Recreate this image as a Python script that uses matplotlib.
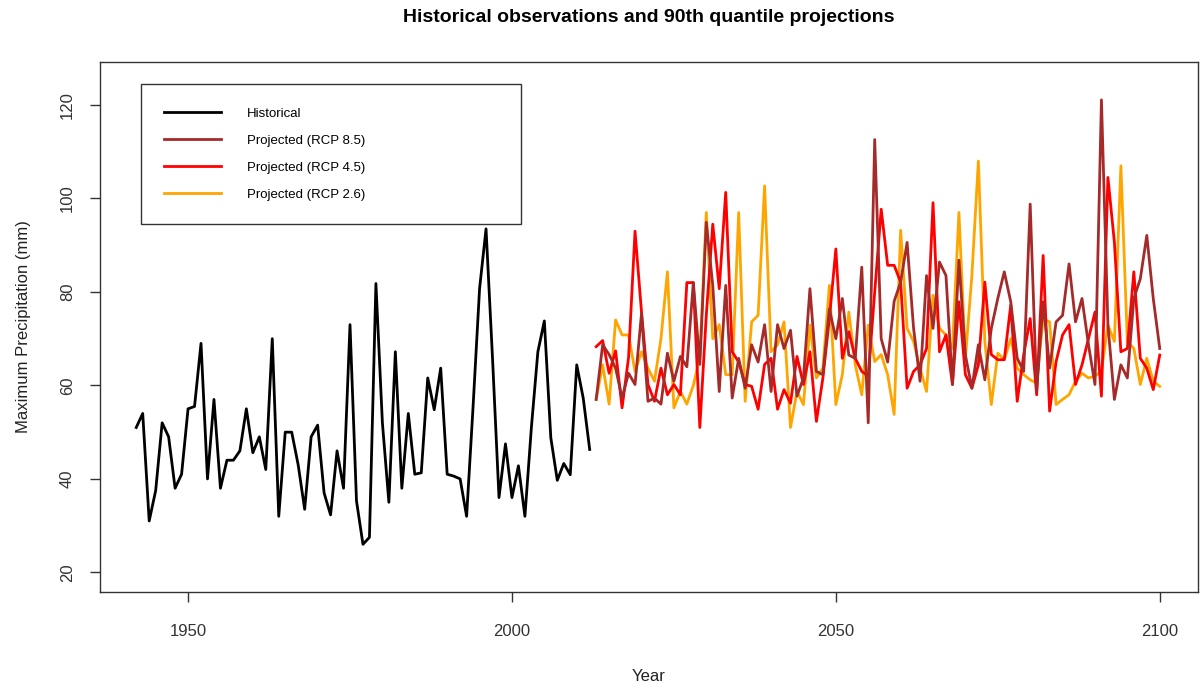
import numpy as np
import matplotlib
matplotlib.use("Agg")
import matplotlib.pyplot as plt

plt.rcParams['font.family'] = ['Liberation Sans', 'DejaVu Sans']

# Observed annual maxima
hist_years = list(range(1942, 2013))
hist_vals = [51, 54, 31, 37.5, 52, 49, 38, 41, 55, 55.5,
             69, 40, 57, 38, 44, 44, 46, 55, 45.6, 49,
             42, 70, 32, 50, 50, 43, 33.5, 49, 51.5, 37,
             32.3, 46, 38, 73, 35.3, 26, 27.5, 81.8, 52, 35,
             67.2, 38, 54, 41, 41.3, 61.6, 54.8, 63.7, 41, 40.6,
             40, 32, 55.5, 80.7, 93.5, 65.8, 36, 47.5, 36, 42.8,
             32, 51, 67.2, 73.8, 48.8, 39.7, 43.3, 40.9, 64.4, 57.3,
             46.3]

# Projections, 90th quantile
proj_years = list(range(2013, 2101))
rcp85 = [57, 68.7, 66.6, 63.7, 57.3, 62.6, 60.2, 75.4, 56.6, 57.3,
         56, 66.9, 60.9, 66.2, 64, 82, 64.5, 94.9, 81.4, 58.7,
         81.4, 57.3, 65.8, 59.4, 68.7, 65, 73, 58.7, 73, 67.9,
         71.8, 57.7, 61.6, 80.7, 63, 62.3, 76.4, 70, 78.6, 66.5,
         65.8, 85.3, 52, 112.6, 70, 65, 78, 82.1, 90.6, 72.2,
         60.9, 83.5, 72.2, 86.4, 83.5, 60.2, 86.8, 66.5, 59.4, 68.7,
         61.2, 72.2, 78.6, 84.3, 77.9, 65.8, 63, 98.8, 58.7, 77.9,
         63.7, 73.6, 75, 86, 73.6, 78.6, 68.7, 60.2, 121.1, 73,
         57, 64.4, 61.6, 78.6, 82.8, 92.1, 78.6, 67.9]
rcp45 = [68.3, 69.6, 62.6, 67.4, 55.2, 66, 93, 75.7, 60.2, 56.6,
         63.7, 58, 60.2, 58, 82, 82, 51, 75, 94.5, 80.7,
         101.3, 67.2, 65, 60.2, 59.8, 54.9, 64.5, 65.8, 54.9, 59.1,
         56.2, 66.2, 60.2, 67.2, 52.3, 61.6, 74.3, 89.2, 65.8, 71.5,
         65.8, 63, 62, 80, 97.7, 85.7, 85.7, 82.1, 59.4, 63,
         64.4, 67.9, 99.1, 67.2, 70.8, 60.2, 77.9, 62.3, 59.4, 64.4,
         82.1, 66.6, 65.5, 65.5, 77.2, 56.6, 66.6, 74.3, 58, 87.8,
         54.5, 65.1, 70.8, 73, 60.2, 64.4, 70, 75.7, 57.7, 104.5,
         90.6, 67.2, 67.9, 84.3, 65.8, 63.7, 59.1, 66.5]
rcp26 = [57, 64.4, 56, 74, 70.8, 70.8, 63, 67.2, 63.7, 60.9,
         70, 84.3, 55.2, 58.7, 56, 60, 66, 97, 70, 73,
         62.3, 62.3, 97, 56.6, 73.6, 75, 102.7, 67.2, 68.7, 73.6,
         51, 58.7, 55.9, 72.9, 61.6, 63.7, 81.4, 55.9, 62.3, 75.7,
         64.4, 58, 72.9, 65.1, 66.6, 62.3, 53.8, 93.2, 72.2, 69.4,
         63.7, 58.7, 79.3, 72.2, 70.8, 67.9, 97, 65.8, 83.5, 108,
         69.4, 55.9, 66.9, 65.5, 70, 63.7, 62.3, 61.2, 60.5, 74.3,
         73.6, 55.9, 57, 58, 60.9, 62.6, 61.6, 62, 63, 72.9,
         69.4, 107, 69.4, 67.9, 60.2, 65.8, 60.9, 59.8]

fig = plt.figure(figsize=(12, 6.92), dpi=100)
ax = fig.add_axes([0.0833, 0.1445, 0.9150, 0.7659])

ax.plot(hist_years, hist_vals, color='black', lw=2, label='Historical', zorder=4)
ax.plot(proj_years, rcp85, color='#A52A2A', lw=2, label='Projected (RCP 8.5)', zorder=3)
ax.plot(proj_years, rcp45, color='#FF0000', lw=2, label='Projected (RCP 4.5)', zorder=2)
ax.plot(proj_years, rcp26, color='#FFA500', lw=2, label='Projected (RCP 2.6)', zorder=1)

ax.set_xlim(1936.4, 2105.9)
ax.set_ylim(15.8, 129.2)
ax.set_xticks([1950, 2000, 2050, 2100])
ax.set_yticks([20, 40, 60, 80, 100, 120])
ax.tick_params(direction='out', length=7, width=1, colors='#333333', labelsize=12)
ax.tick_params(axis='x', pad=16)
ax.tick_params(axis='y', pad=11)
for lbl in ax.get_yticklabels():
    lbl.set_rotation(90)
    lbl.set_va('center')
for s in ax.spines.values():
    s.set_color('#333333')
    s.set_linewidth(1)

ax.set_xlabel('Year', fontsize=12, color='#222222')
ax.set_ylabel('Maximum Precipitation (mm)', fontsize=12, color='#222222')
ax.xaxis.set_label_coords(0.5, -0.145)
ax.yaxis.set_label_coords(-0.063, 0.5)

fig.suptitle('Historical observations and 90th quantile projections',
             x=0.541, y=0.974, va='center', fontsize=14, fontweight='bold')

leg = ax.legend(loc='upper left', bbox_to_anchor=(0.0373, 0.958, 0.346, 0.0),
                mode='expand', fontsize=9.5, frameon=True, fancybox=False,
                edgecolor='black', borderpad=1.75, handlelength=4.3,
                handletextpad=2.0, labelspacing=1.12, borderaxespad=0)
leg.get_frame().set_linewidth(1)
leg.set_zorder(10)

plt.savefig('out.png', dpi=100)
